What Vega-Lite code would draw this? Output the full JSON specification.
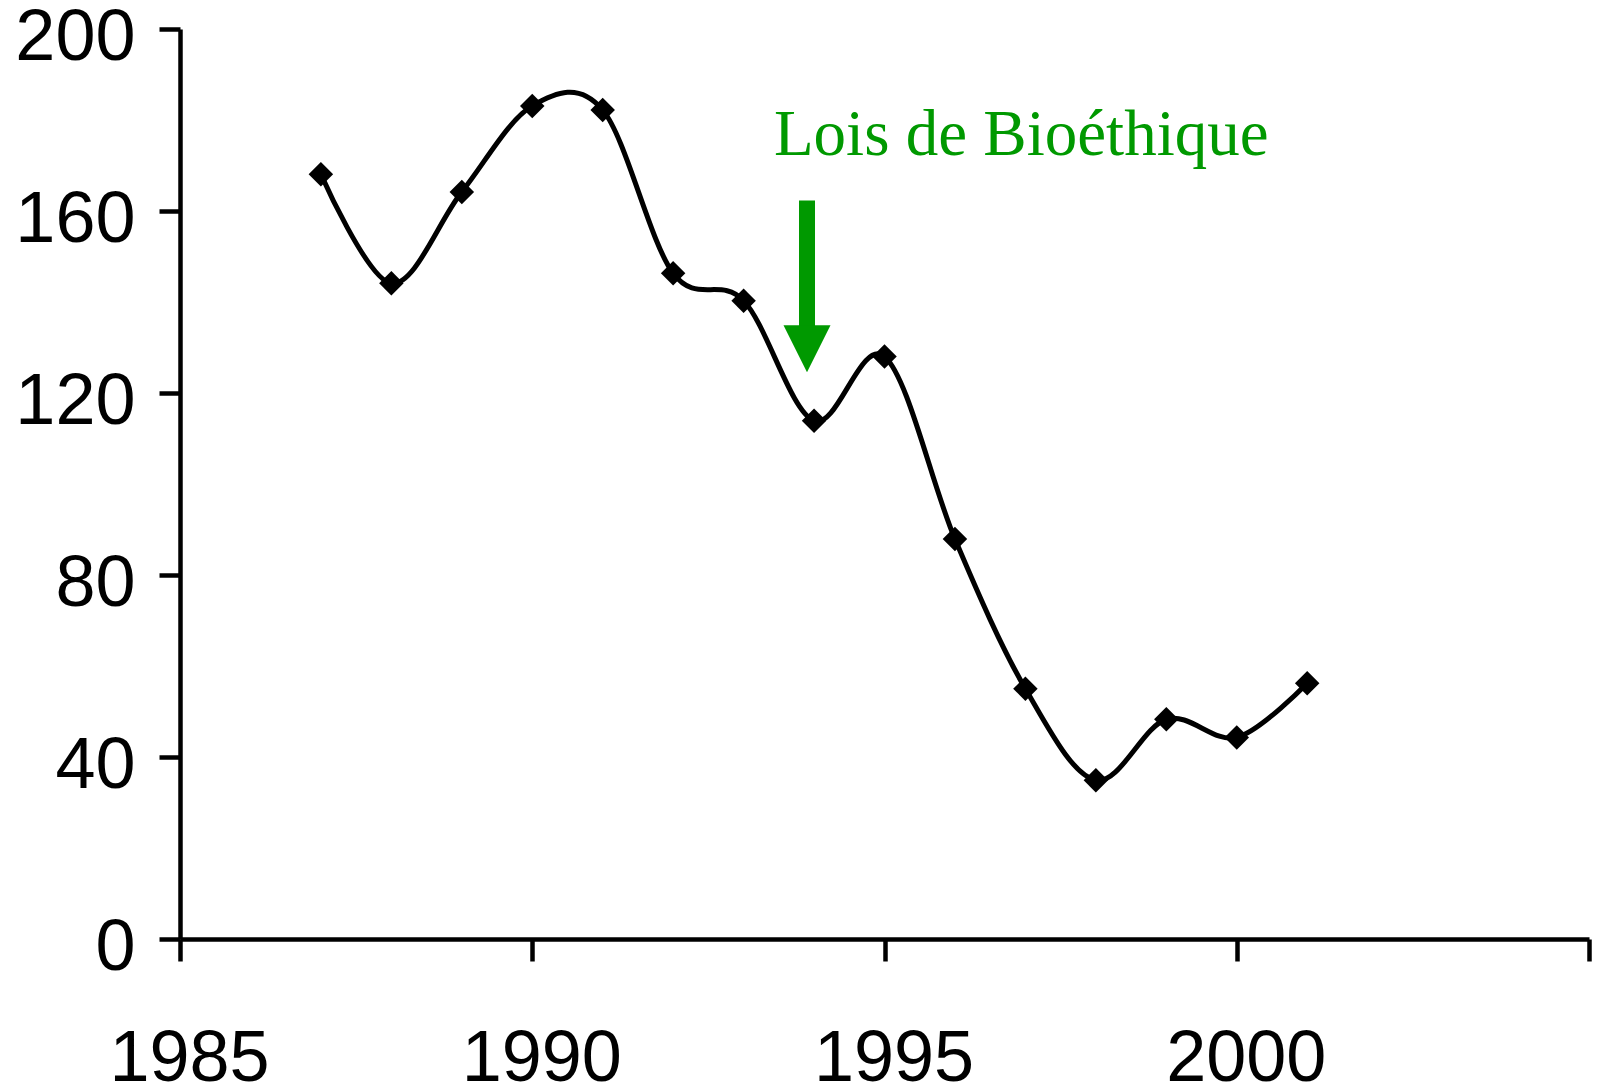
{
  "$schema": "https://vega.github.io/schema/vega-lite/v6.json",
  "width": 1409,
  "height": 910,
  "autosize": {"type": "none"},
  "padding": {"left": 180, "top": 29, "right": 8, "bottom": 150},
  "background": "white",
  "config": {
    "view": {"stroke": null},
    "axis": {
      "grid": false,
      "domainColor": "black",
      "domainWidth": 4.5,
      "tickColor": "black",
      "tickWidth": 4.5,
      "labelColor": "black",
      "labelFont": "Liberation Sans",
      "labelFontSize": 72,
      "labelOverlap": false,
      "labelFlush": false,
      "labelBound": false,
      "title": null
    }
  },
  "datasets": {
    "series": [
      {"year": 1987, "value": 168.1},
      {"year": 1988, "value": 144.1},
      {"year": 1989, "value": 164.2},
      {"year": 1990, "value": 183.1},
      {"year": 1991, "value": 182.2},
      {"year": 1992, "value": 146.3},
      {"year": 1993, "value": 140.3},
      {"year": 1994, "value": 113.9},
      {"year": 1995, "value": 128.0},
      {"year": 1996, "value": 87.9},
      {"year": 1997, "value": 55.0},
      {"year": 1998, "value": 34.9},
      {"year": 1999, "value": 48.3},
      {"year": 2000, "value": 44.3},
      {"year": 2001, "value": 56.2}
    ],
    "arrow": [{"year": 1993.9, "top": 162.3, "bottom": 134.7, "head": 129.7}],
    "note": [{"year": 1993.43, "value": 172.3, "text": "Lois de Bioéthique"}]
  },
  "layer": [
    {
      "data": {"name": "series"},
      "mark": {"type": "line", "stroke": "black", "strokeWidth": 5, "interpolate": "cardinal"},
      "encoding": {
        "x": {
          "field": "year", "type": "quantitative",
          "scale": {"domain": [1985, 2005], "nice": false, "zero": false},
          "axis": {
            "values": [1985, 1990, 1995, 2000, 2005],
            "format": "d",
            "labelExpr": "datum.value == 2005 ? '' : datum.label",
            "tickSize": 22,
            "labelPadding": 62,
            "labelBaseline": "top",
            "labelOffset": 9,
            "domainWidth": 4.5,
            "tickWidth": 4.5
          }
        },
        "y": {
          "field": "value", "type": "quantitative",
          "scale": {"domain": [0, 200], "nice": false},
          "axis": {
            "values": [0, 40, 80, 120, 160, 200],
            "tickSize": 21,
            "labelPadding": 24,
            "labelBaseline": "middle",
            "labelOffset": 8,
            "domainWidth": 4.5,
            "tickWidth": 4.5
          }
        }
      }
    },
    {
      "data": {"name": "series"},
      "mark": {"type": "point", "shape": "diamond", "filled": true, "color": "black", "size": 600, "opacity": 1},
      "encoding": {
        "x": {"field": "year", "type": "quantitative"},
        "y": {"field": "value", "type": "quantitative"}
      }
    },
    {
      "data": {"name": "arrow"},
      "mark": {"type": "rule", "color": "#009900", "strokeWidth": 16, "strokeCap": "butt"},
      "encoding": {
        "x": {"field": "year", "type": "quantitative"},
        "y": {"field": "top", "type": "quantitative"},
        "y2": {"field": "bottom"}
      }
    },
    {
      "data": {"name": "arrow"},
      "mark": {"type": "point", "shape": "M-1,-1L1,-1L0,1Z", "filled": true, "color": "#009900", "size": 2209, "opacity": 1},
      "encoding": {
        "x": {"field": "year", "type": "quantitative"},
        "y": {"field": "head", "type": "quantitative"}
      }
    },
    {
      "data": {"name": "note"},
      "mark": {"type": "text", "font": "Liberation Serif", "fontSize": 65, "color": "#009900", "align": "left", "baseline": "alphabetic"},
      "encoding": {
        "x": {"field": "year", "type": "quantitative"},
        "y": {"field": "value", "type": "quantitative"},
        "text": {"field": "text"}
      }
    }
  ]
}
